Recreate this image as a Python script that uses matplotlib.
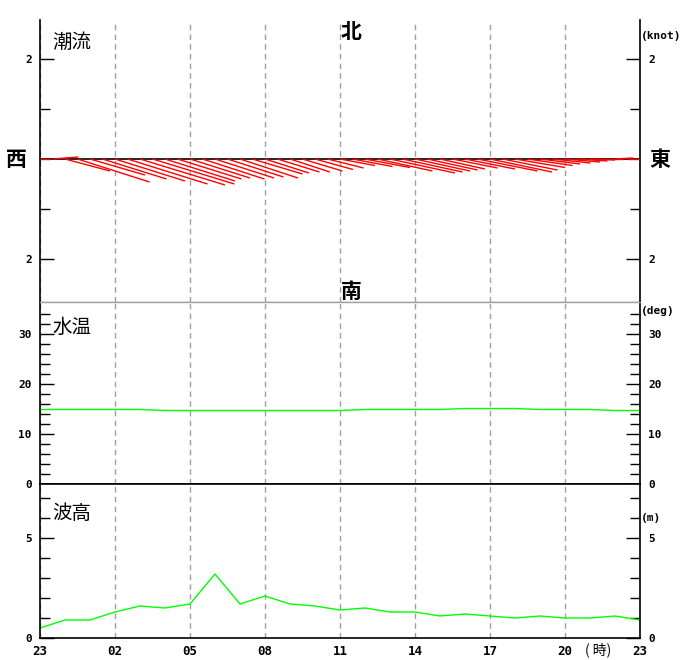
import numpy as np
import matplotlib
matplotlib.use("Agg")
import matplotlib.pyplot as plt
from matplotlib.collections import LineCollection

plt.rcParams['font.family'] = ['DejaVu Sans Mono']
plt.rcParams['font.weight'] = 'bold'

# ---------------- data ----------------
hour_labels = ["23", "02", "05", "08", "11", "14", "17", "20", "23"]
hours = list(range(0, 25))                     # hourly samples 23:00 -> 23:00
current_t = [i * 0.5 for i in range(49)]       # half-hourly current samples

# current east (u) and north (v) components, knots
current_u = [0.20, 0.52, 0.90, 1.44, 1.10, 1.28, 1.40, 1.60, 1.70, 1.64,
             1.40, 1.28, 1.20, 1.24, 1.18, 1.12, 1.16, 1.00, 0.88, 0.84,
             0.80, 0.80, 0.76, 0.72, 0.70, 0.80, 0.90, 1.10, 1.30, 1.20,
             1.10, 1.00, 0.90, 0.90, 1.00, 1.20, 1.24, 1.10, 1.00, 0.90,
             0.80, 0.76, 0.70, 0.60, 0.50, 0.40, 0.36, 0.30, 0.20]
current_v = [0.00, 0.04, -0.24, -0.46, -0.32, -0.40, -0.44, -0.50, -0.52, -0.50,
             -0.44, -0.40, -0.38, -0.40, -0.38, -0.36, -0.38, -0.30, -0.28, -0.26,
             -0.26, -0.24, -0.21, -0.18, -0.13, -0.15, -0.17, -0.24, -0.28, -0.26,
             -0.24, -0.22, -0.20, -0.18, -0.20, -0.24, -0.26, -0.22, -0.17, -0.13,
             -0.10, -0.08, -0.06, -0.04, -0.02, 0.00, 0.02, 0.00, 0.00]

water_temp = [14.9, 14.9, 14.9, 14.9, 14.9,
              14.7, 14.7, 14.7, 14.7, 14.7, 14.7, 14.7, 14.7,
              14.9, 14.9, 14.9, 14.9,
              15.1, 15.1, 15.1,
              14.9, 14.9, 14.9,
              14.7, 14.7]

wave_height = [0.5, 0.9, 0.9, 1.3, 1.6, 1.5, 1.7, 3.2, 1.7, 2.1, 1.7, 1.6, 1.4,
               1.5, 1.3, 1.3, 1.1, 1.2, 1.1, 1.0, 1.1, 1.0, 1.0, 1.1, 0.9]

# ---------------- layout ----------------
W, H = 680, 660
fig = plt.figure(figsize=(W / 100, H / 100), dpi=100)

def rect(x0, y0, x1, y1):
    return [x0 / W, 1 - y1 / H, (x1 - x0) / W, (y1 - y0) / H]

ax1 = fig.add_axes(rect(40, 20, 640, 302))
ax2 = fig.add_axes(rect(40, 302, 640, 484))
ax3 = fig.add_axes(rect(40, 484, 640, 638))

GRAY = '#a0a0a0'
JP = ['Noto Sans CJK JP', 'DejaVu Sans']

for ax in (ax1, ax2, ax3):
    ax.set_xlim(0, 24)
    ax.set_xticks(range(0, 25, 3))
    ax.grid(axis='x', color=GRAY, lw=1.0, ls=(0, (4, 3)))
    ax.set_axisbelow(True)
    for s in ax.spines.values():
        s.set_linewidth(1.2)
        s.set_color('black')
    ax.tick_params(axis='x', length=0, labelbottom=False)
    ax.tick_params(axis='y', which='both', direction='in', left=True, right=True,
                   labelleft=True, labelright=True, width=1.0, color='black',
                   labelsize=8, pad=6)
    ax.tick_params(axis='y', which='major', length=10)
    ax.tick_params(axis='y', which='minor', length=7)

# spines between panels
ax1.spines['top'].set_visible(False)
ax1.spines['bottom'].set_color(GRAY)
ax1.spines['bottom'].set_linewidth(1.0)
ax2.spines['top'].set_color(GRAY)
ax2.spines['top'].set_linewidth(1.0)

# ---------------- current panel ----------------
ax1.set_ylim(-2.86, 2.78)
ax1.set_yticks([-2, 2])
ax1.set_yticklabels(['2', '2'])
ax1.set_yticks([-1, 1], minor=True)
ax1.axhline(0, color='black', lw=1.2, zorder=2)

fig.canvas.draw()
bb = ax1.get_window_extent()
px_per_hour = bb.width / 24.0
px_per_knot = bb.height / (2.78 + 2.86)
k = px_per_knot / px_per_hour
segs = [[(t, 0.0), (t + u * k, v)] for t, u, v in zip(current_t, current_u, current_v)]
ax1.add_collection(LineCollection(segs, colors='#ff0000', linewidths=1.0, zorder=3))

ax1.text(0.02, 0.92, '潮流', transform=ax1.transAxes, family=JP, weight='normal',
         fontsize=14, ha='left', va='center')

# ---------------- water temperature panel ----------------
ax2.set_ylim(0, 36.4)
ax2.set_yticks([0, 10, 20, 30])
ax2.set_yticks([v for v in range(2, 36, 2) if v % 10 != 0], minor=True)
ax2.plot(hours, water_temp, color='#00ff00', lw=1.0)
ax2.text(0.02, 0.86, '水温', transform=ax2.transAxes, family=JP, weight='normal',
         fontsize=14, ha='left', va='center')

# ---------------- wave height panel ----------------
ax3.set_ylim(0, 7.7)
ax3.set_yticks([0, 5])
ax3.set_yticks([1, 2, 3, 4, 6, 7], minor=True)
ax3.plot(hours, wave_height, color='#00ff00', lw=1.0)
ax3.set_xticklabels(hour_labels)
ax3.tick_params(axis='x', labelbottom=True, labelsize=9, pad=5)
ax3.text(0.02, 0.81, '波高', transform=ax3.transAxes, family=JP, weight='normal',
         fontsize=14, ha='left', va='center')

# ---------------- extra texts ----------------
def ftext(x, y, s, **kw):
    fig.text(x / W, 1 - y / H, s, **kw)

ftext(641, 36, '(knot)', fontsize=8, ha='left', va='center')
ftext(641, 311, '(deg)', fontsize=8, ha='left', va='center')
ftext(641, 518, '(m)', fontsize=8, ha='left', va='center')
ftext(598, 650, '( 時)', family=JP, weight='normal', fontsize=10, ha='center', va='center')

ftext(351, 31, '北', family=JP, weight='bold', fontsize=15, ha='center', va='center')
ftext(351, 291, '南', family=JP, weight='bold', fontsize=15, ha='center', va='center')
ftext(16, 160, '西', family=JP, weight='bold', fontsize=15, ha='center', va='center')
ftext(660, 160, '東', family=JP, weight='bold', fontsize=15, ha='center', va='center')

fig.savefig('out.png', dpi=100)
